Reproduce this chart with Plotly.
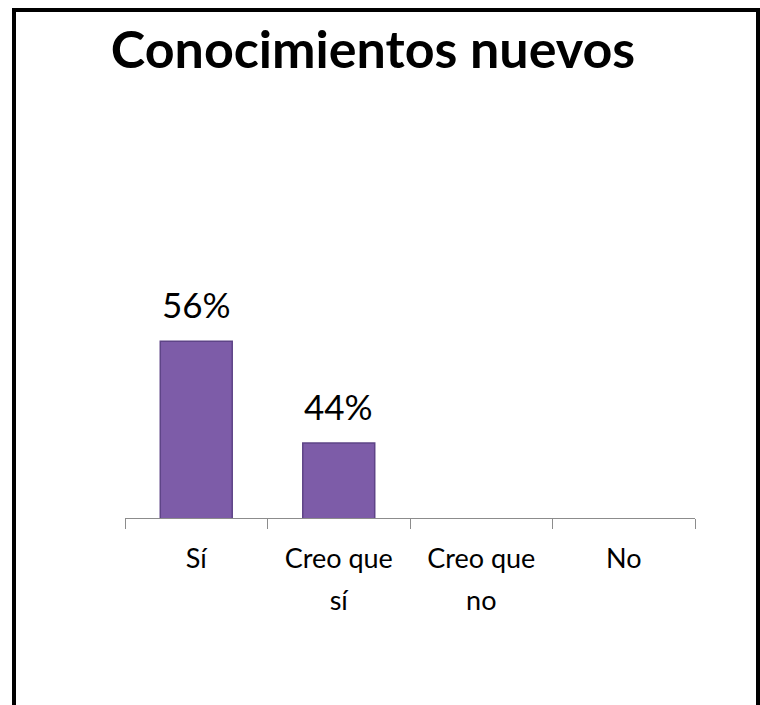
import plotly.graph_objects as go

categories = ["Sí", "Creo que sí", "Creo que no", "No"]
tick_labels = ["Sí", "Creo que<br>sí", "Creo que<br>no", "No"]
values = [56, 44, None, None]
title_text = "Conocimientos nuevos"

W, H = 760, 705
L, R, T, B = 125, 65, 150, 187
pw, ph = W - L - R, H - T - B

def px_to_paper_x(px):
    return (px - L) / pw

def px_to_paper_y(py):
    return (H - B - py) / ph

fig = go.Figure()
fig.add_trace(go.Bar(
    x=categories, y=values, width=0.505,
    marker=dict(color="#7D5CA8", line=dict(color="#5E4487", width=1.5)),
    hoverinfo="skip",
))

for c, v in zip(categories, values):
    if v is not None:
        fig.add_annotation(x=c, y=v, xref="x", yref="y", text=f"{v}%",
                           showarrow=False, yanchor="bottom", yshift=14,
                           font=dict(family="Lato", size=35, color="#000000"))

span = "<span style='font-size:27px'>{}</span>"
ticktext = ["<br>".join(span.format(p) for p in t.split("<br>")) for t in tick_labels]

fig.update_layout(
    width=W, height=H,
    margin=dict(l=L, r=R, t=T, b=B, pad=0),
    paper_bgcolor="white", plot_bgcolor="white",
    showlegend=False,
    title=dict(text=f"<b>{title_text}</b>", x=373 / W, xanchor="center",
               y=1 - 50 / H, yanchor="middle", yref="container",
               font=dict(family="Lato", size=52, color="#000000")),
    xaxis=dict(categoryorder="array", categoryarray=categories,
               tickmode="array", tickvals=categories, ticktext=ticktext,
               tickson="boundaries", ticks="outside", ticklen=10,
               tickcolor="#8C8C8C", tickwidth=1,
               showline=True, linecolor="#8C8C8C", linewidth=1,
               showgrid=False, zeroline=False,
               tickfont=dict(family="Lato", size=32, color="#000000"),
               ticklabelstandoff=11),
    yaxis=dict(range=[35.15, 78.57], visible=False, showgrid=False,
               zeroline=False, fixedrange=True),
    bargap=0.5,
)

fig.add_shape(type="rect", xref="paper", yref="paper",
              x0=px_to_paper_x(14), x1=px_to_paper_x(758),
              y0=px_to_paper_y(720), y1=px_to_paper_y(10),
              line=dict(color="#000000", width=4), fillcolor="rgba(0,0,0,0)",
              layer="above")

fig.write_html("out.html")
